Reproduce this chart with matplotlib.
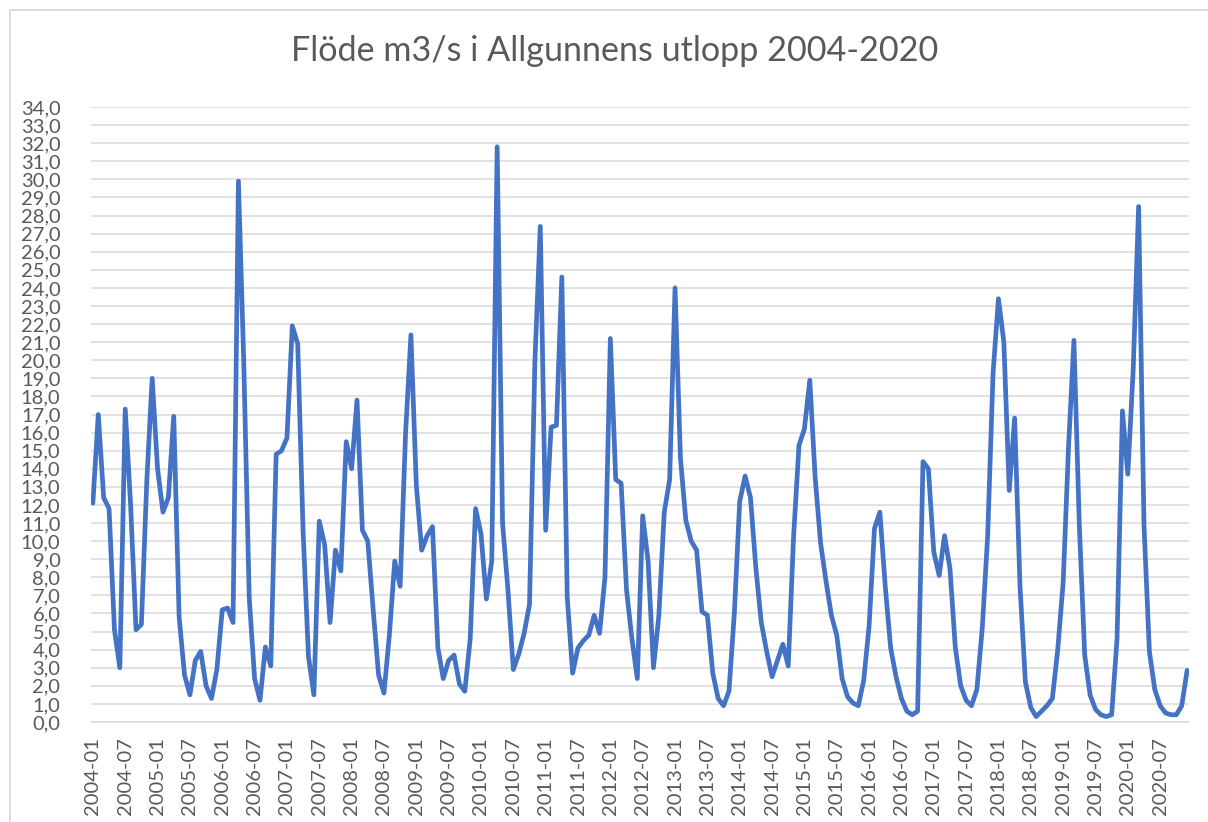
import matplotlib
matplotlib.use("Agg")
import matplotlib.pyplot as plt
from matplotlib.lines import Line2D

# ---------------- data ----------------
years = list(range(2004, 2021))
months = [f"{y}-{m:02d}" for y in years for m in range(1, 13)]

flow_2004 = [12.1, 17.0, 12.4, 11.8, 5.1, 3.0, 17.3, 12.0, 5.1, 5.4, 13.3, 19.0]
flow_2005 = [14.0, 11.6, 12.4, 16.9, 5.8, 2.6, 1.5, 3.4, 3.9, 2.0, 1.3, 2.9]
flow_2006 = [6.2, 6.3, 5.5, 29.9, 19.8, 6.9, 2.4, 1.2, 4.15, 3.1, 14.8, 15.0]
flow_2007 = [15.7, 21.9, 20.9, 10.5, 3.6, 1.5, 11.1, 9.8, 5.5, 9.5, 8.35, 15.5]
flow_2008 = [14.0, 17.8, 10.6, 10.0, 6.2, 2.6, 1.6, 4.8, 8.9, 7.5, 15.9, 21.4]
flow_2009 = [13.1, 9.5, 10.3, 10.8, 4.1, 2.4, 3.4, 3.7, 2.1, 1.7, 4.6, 11.8]
flow_2010 = [10.4, 6.8, 8.9, 31.8, 11.0, 7.3, 2.9, 3.75, 4.9, 6.5, 19.9, 27.4]
flow_2011 = [10.6, 16.3, 16.4, 24.6, 6.9, 2.7, 4.1, 4.5, 4.8, 5.9, 4.9, 8.0]
flow_2012 = [21.2, 13.4, 13.2, 7.3, 4.6, 2.4, 11.4, 8.9, 3.0, 5.9, 11.6, 13.4]
flow_2013 = [24.0, 14.6, 11.15, 10.0, 9.5, 6.1, 5.9, 2.7, 1.3, 0.9, 1.7, 6.0]
flow_2014 = [12.2, 13.6, 12.4, 8.5, 5.5, 3.9, 2.5, 3.4, 4.3, 3.1, 10.3, 15.3]
flow_2015 = [16.2, 18.9, 13.5, 9.9, 7.8, 5.9, 4.8, 2.4, 1.4, 1.05, 0.9, 2.3]
flow_2016 = [5.3, 10.7, 11.6, 7.5, 4.1, 2.5, 1.3, 0.6, 0.4, 0.6, 14.4, 14.0]
flow_2017 = [9.4, 8.1, 10.3, 8.5, 4.1, 2.0, 1.2, 0.9, 1.8, 5.2, 10.3, 19.3]
flow_2018 = [23.4, 21.0, 12.8, 16.8, 7.5, 2.2, 0.8, 0.3, 0.6, 0.9, 1.3, 4.0]
flow_2019 = [7.7, 15.2, 21.1, 10.9, 3.7, 1.5, 0.7, 0.4, 0.3, 0.4, 4.6, 17.2]
flow_2020 = [13.7, 19.5, 28.5, 10.9, 3.9, 1.8, 0.9, 0.5, 0.4, 0.4, 0.9, 2.85]

flow = (flow_2004 + flow_2005 + flow_2006 + flow_2007 + flow_2008 + flow_2009 +
        flow_2010 + flow_2011 + flow_2012 + flow_2013 + flow_2014 + flow_2015 +
        flow_2016 + flow_2017 + flow_2018 + flow_2019 + flow_2020)

y_ticks = list(range(0, 35))
title = "Flöde m3/s i Allgunnens utlopp 2004-2020"

# ---------------- style ----------------
W, H = 1208, 822
fig = plt.figure(figsize=(W / 100, H / 100), dpi=100)
fig.patch.set_facecolor("white")

ax = fig.add_axes([91 / W, 1 - 722 / H, (1189 - 91) / W, (722 - 107) / H])

text_col = "#595959"
grid_col = "#d9d9d9"
line_col = "#4472C4"
font = ["Lato", "DejaVu Sans"]

x = list(range(len(flow)))
ax.plot(x, flow, color=line_col, lw=3.4, solid_joinstyle="round",
        solid_capstyle="round", zorder=3)

ax.set_xlim(-0.35, len(flow) - 1 + 0.35)
ax.set_ylim(0, 34)

ax.set_yticks(y_ticks)
ax.set_yticklabels([f"{v:.1f}".replace(".", ",") for v in y_ticks],
                   fontsize=14.5, color=text_col, family=font)
xt = list(range(0, len(months), 6))
ax.set_xticks(xt)
ax.set_xticklabels([months[i] for i in xt], rotation=90, fontsize=14.5,
                   color=text_col, family=font)

ax.tick_params(axis="y", length=0, pad=22)
ax.tick_params(axis="x", length=0, pad=11)

ax.grid(axis="y", color=grid_col, lw=1.1, zorder=0)
ax.grid(axis="x", visible=False)
for s in ["top", "right", "left"]:
    ax.spines[s].set_visible(False)
ax.spines["bottom"].set_color(grid_col)
ax.spines["bottom"].set_linewidth(1.1)
ax.set_axisbelow(True)

fig.text(615 / W, 1 - 51 / H, title, ha="center", va="center",
         fontsize=24.6, color=text_col, family=font)

# chart border (Excel chart area)
fig.add_artist(Line2D([9.5 / W, 9.5 / W], [0, 1 - 10.5 / H], color=grid_col,
                      lw=1.3, transform=fig.transFigure))
fig.add_artist(Line2D([9.5 / W, 1], [1 - 10.5 / H, 1 - 10.5 / H], color=grid_col,
                      lw=1.3, transform=fig.transFigure))

fig.savefig("out.png", dpi=100, facecolor="white")
